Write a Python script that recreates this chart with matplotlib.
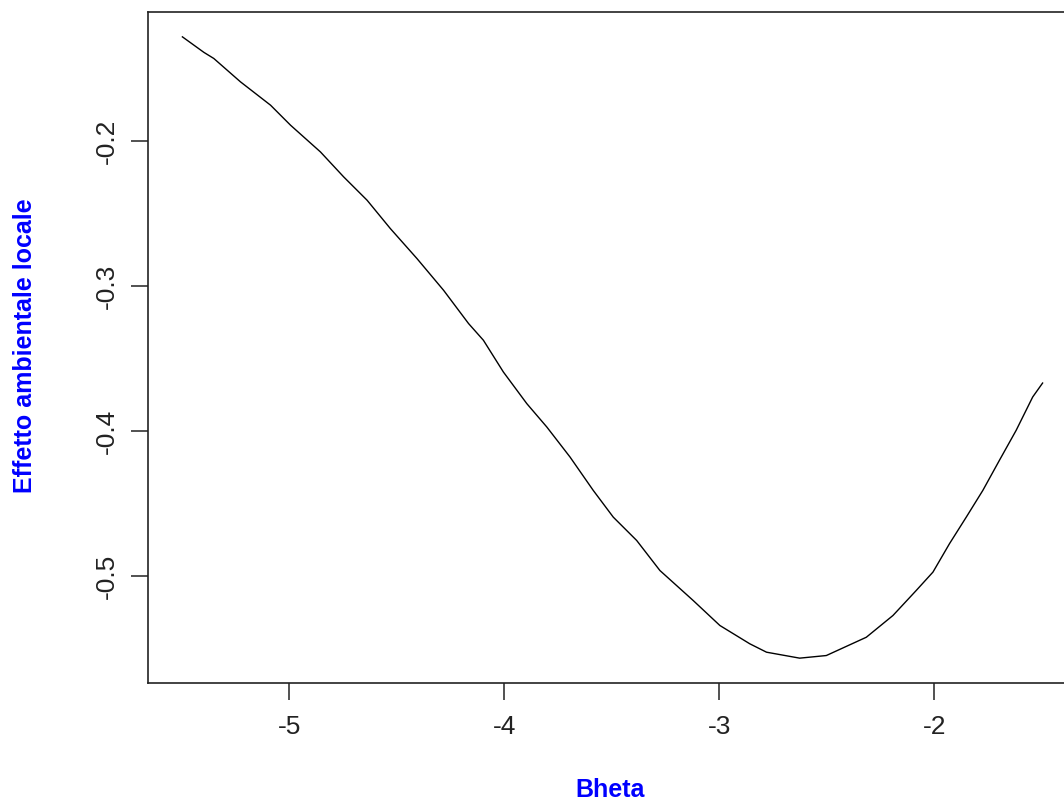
import matplotlib
matplotlib.use("Agg")
import matplotlib.pyplot as plt

plt.rcParams['font.family'] = ['Liberation Sans', 'DejaVu Sans']

bheta = [-5.498, -5.398, -5.352, -5.228, -5.088, -4.995, -4.856, -4.748, -4.639,
         -4.531, -4.407, -4.283, -4.167, -4.098, -4.005, -3.896, -3.803, -3.695,
         -3.587, -3.494, -3.385, -3.277, -3.122, -2.998, -2.859, -2.781, -2.627,
         -2.503, -2.317, -2.193, -2.085, -2.007, -1.930, -1.852, -1.775, -1.698,
         -1.620, -1.543, -1.497]
effetto = [-0.1281, -0.1388, -0.1430, -0.1591, -0.1752, -0.1890, -0.2074, -0.2246,
           -0.2407, -0.2602, -0.2809, -0.3028, -0.3257, -0.3372, -0.3591, -0.3809,
           -0.3970, -0.4177, -0.4407, -0.4591, -0.4752, -0.4959, -0.5166, -0.5338,
           -0.5464, -0.5522, -0.5563, -0.5545, -0.5419, -0.5269, -0.5097, -0.4970,
           -0.4774, -0.4591, -0.4407, -0.4200, -0.3993, -0.3763, -0.3667]
xticks = [-5, -4, -3, -2]
yticks = [-0.5, -0.4, -0.3, -0.2]
ytick_labels = ['-0.5', '-0.4', '-0.3', '-0.2']

W, H = 1064, 801
fig = plt.figure(figsize=(W / 100, H / 100), dpi=100)
left, right, top, bottom = 148, 1077, 12, 683
ax = fig.add_axes([left / W, (H - bottom) / H, (right - left) / W, (bottom - top) / H])

ax.plot(bheta, effetto, color='black', linewidth=1.0)

xr = max(bheta) - min(bheta)
yr = max(effetto) - min(effetto)
ax.set_xlim(min(bheta) - 0.04 * xr, max(bheta) + 0.04 * xr)
ax.set_ylim(min(effetto) - 0.04 * yr, max(effetto) + 0.04 * yr)

ax.set_xticks(xticks)
ax.set_xticklabels([str(v) for v in xticks])
ax.set_yticks(yticks)
ax.set_yticklabels(ytick_labels, rotation=90, va='center')

ax.tick_params(axis='both', direction='out', length=12, width=1.1, color='#222222',
               labelsize=19, labelcolor='#222222')
ax.tick_params(axis='x', pad=11)
ax.tick_params(axis='y', pad=9)
for s in ax.spines.values():
    s.set_linewidth(1.2)
    s.set_color('#222222')

fig.text(610 / W, 1 - 790 / H, 'Bheta', color='#0000ff', fontsize=18,
         fontweight='bold', ha='center', va='center')
fig.text(25 / W, 1 - 346 / H, 'Effetto ambientale locale', color='#0000ff',
         fontsize=18, fontweight='bold', rotation=90, ha='center', va='center')

fig.savefig('out.png', dpi=100, facecolor='white')
